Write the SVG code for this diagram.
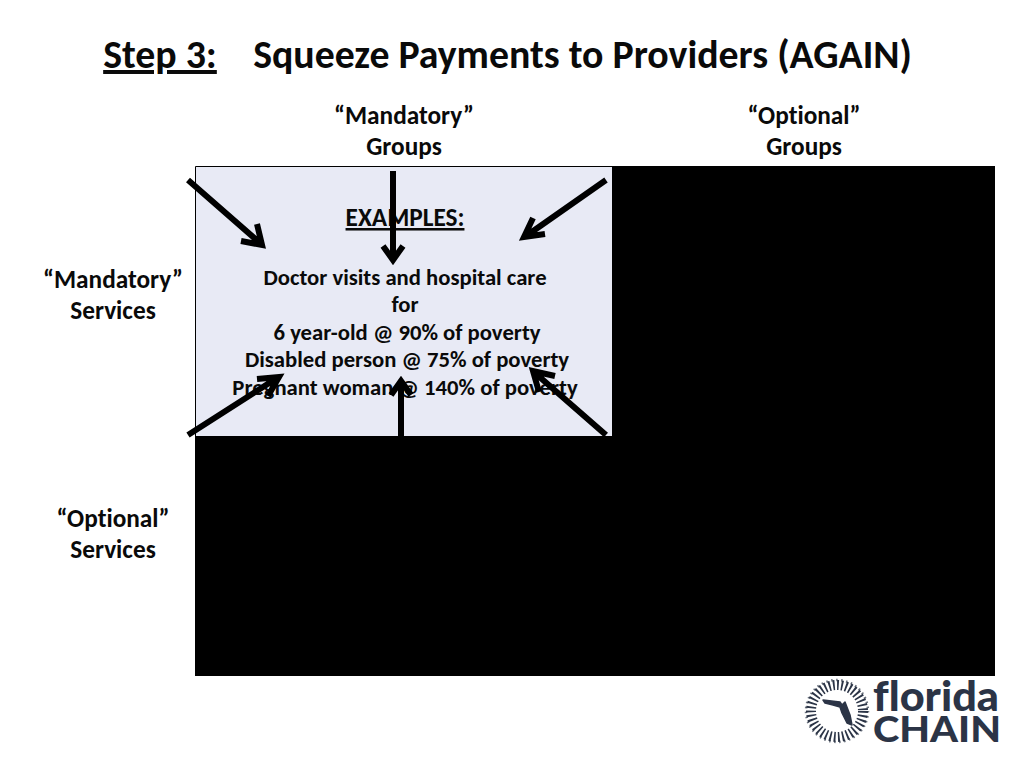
<svg xmlns="http://www.w3.org/2000/svg" width="1024" height="768" viewBox="0 0 1024 768">
<style>
text{font-family:Carlito,Lato,"Open Sans",sans-serif;font-weight:700;fill:#0a0a0a;text-anchor:middle;font-variant-ligatures:none}
.t{font-size:39.8px}.h{font-size:25.3px}.b{font-size:22.7px}
.a{fill:none;stroke:#000;stroke-width:6}
.l{fill:#2b3446;text-anchor:start;font-family:Lato,sans-serif;font-weight:900}
</style>
<rect width="1024" height="768" fill="#fff"/>
<g id="title">
<text class="t" x="160" y="68" text-decoration="underline">Step 3:</text>
<text class="t" x="582.5" y="68">Squeeze Payments to Providers (AGAIN)</text>
</g>
<g id="col-mandatory"><text class="h" x="404" y="124">“Mandatory”</text><text class="h" x="404" y="155">Groups</text></g>
<g id="col-optional"><text class="h" x="804" y="124">“Optional”</text><text class="h" x="804" y="155">Groups</text></g>
<g id="row-mandatory"><text class="h" x="113" y="288">“Mandatory”</text><text class="h" x="113" y="319">Services</text></g>
<g id="row-optional"><text class="h" x="113" y="527">“Optional”</text><text class="h" x="113" y="558">Services</text></g>
<g id="black-right"><rect x="612" y="166" width="383" height="510"/></g>
<g id="black-bottom"><rect x="195" y="436" width="800" height="240"/></g>
<g id="examples-box">
<rect x="196" y="167" width="416" height="269" fill="#e8eaf5"/>
<path d="M195.500 436V166.500H612" fill="none" stroke="#000" stroke-width="1"/>
<text class="h" x="405" y="226" text-decoration="underline">EXAMPLES:</text>
<text class="b" x="405" y="285">Doctor visits and hospital care</text>
<text class="b" x="405" y="312">for</text>
<text class="b" x="407" y="340">6 year-old @ 90% of poverty</text>
<text class="b" x="407" y="367">Disabled person @ 75% of poverty</text>
<text class="b" x="405" y="395">Pregnant woman @ 140% of poverty</text>
</g>
<g id="connectors">
<path class="a" d="M188 180L260 243M241 241L262 245L257 224"/>
<path class="a" d="M393 171V258M383 246L393 260L403 246"/>
<path class="a" d="M606 180L526 236M545 234L524 237L533 218"/>
<path class="a" d="M188 435L277 378M257 379L279 377L268 396"/>
<path class="a" d="M401 436V383M391 395L401 381L411 395"/>
<path class="a" d="M606 435L535 373M555 376L533 371L539 392"/>
</g>
<g id="logo">
<circle cx="837" cy="711" r="26" fill="none" stroke="#2b3446" stroke-width="10" stroke-dasharray="1.8 2.4"/>
<circle cx="837" cy="711" r="31" fill="none" stroke="#2b3446" stroke-width="2.500" stroke-dasharray="1.5 3.5" opacity=".7"/>
<path d="M823 700L840 702L842 705L845 702L850 715L852 725L847 723L842 713L840 707L833 705L825 703Z" fill="#2b3446" stroke="#2b3446" stroke-width="1.500" stroke-linejoin="round"/>
<text class="l" x="873" y="711" style="font-size:41px" textLength="126" lengthAdjust="spacingAndGlyphs">florida</text>
<text class="l" x="873" y="742" style="font-size:36px" textLength="128" lengthAdjust="spacingAndGlyphs">CHAIN</text>
</g>
</svg>
